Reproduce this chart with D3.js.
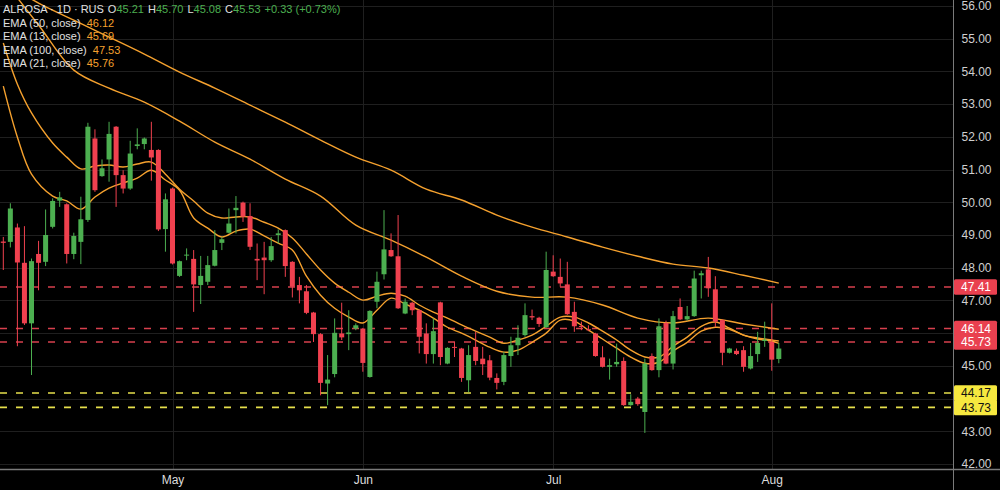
<html>
<head>
  <title>ALROSA 1D</title>
  <script src="https://d3js.org/d3.v7.min.js" charset="utf-8"></script>
  <style type="text/css">
    body { margin: 0; background: #000; }
    svg { display: block; }
    text { font-family: "Liberation Sans", Arial, sans-serif; }
  </style>
</head>
<body>
<div id="chart"></div>
<script>
  // candle data, one entry per trading day (index 0..110)
  var opens  = [48.80,48.79,49.23,48.15,46.30,48.42,48.18,49.25,50.05,49.94,48.42,48.79,49.46,51.95,50.80,51.31,52.31,50.83,50.42,51.72,
                51.78,51.60,51.60,49.18,50.42,47.75,48.37,48.27,47.47,47.57,48.06,48.76,49.07,49.76,49.99,49.58,48.27,48.31,48.23,49.00,
                49.15,48.18,47.47,47.28,46.63,45.97,44.46,44.75,45.99,45.97,46.14,46.14,44.66,46.96,47.80,48.54,48.35,46.60,46.93,46.70,
                45.99,45.36,46.94,45.07,45.58,45.53,44.56,45.58,45.22,45.17,44.63,44.51,45.30,45.63,45.94,46.52,46.47,46.18,47.88,47.72,
                47.49,46.65,46.22,46.12,45.99,45.26,44.97,45.05,45.15,43.80,44.00,43.59,45.30,44.87,46.31,45.07,46.80,46.42,46.52,47.77,
                47.95,47.34,46.40,45.40,45.46,45.48,44.92,45.36,45.76,45.73,45.21];
  var highs  = [48.94,49.97,49.35,49.27,48.28,48.82,49.78,50.12,50.32,49.97,49.07,50.17,52.43,52.23,51.31,52.46,52.33,50.98,51.88,52.26,
                51.98,52.46,51.62,50.27,50.45,48.22,48.59,48.54,48.36,48.36,49.15,48.94,49.81,50.19,50.02,49.97,48.74,48.79,48.94,49.17,
                49.17,48.20,47.72,47.47,46.65,46.00,45.33,46.45,46.93,46.70,46.30,46.16,46.70,47.88,49.76,49.05,49.61,47.06,46.96,46.72,
                46.30,46.45,46.96,45.57,45.73,45.55,45.63,46.04,45.58,45.33,44.77,45.43,45.89,46.24,46.91,46.72,46.50,48.49,48.38,48.28,
                48.18,46.96,46.35,46.24,46.01,45.60,45.22,45.68,45.26,44.13,44.05,45.22,45.38,46.45,46.38,46.68,47.06,46.83,47.91,47.91,
                48.33,47.74,46.42,45.55,45.53,45.60,45.70,46.04,46.35,46.91,45.70];
  var lows   = [47.93,48.62,45.60,46.25,44.72,47.31,48.05,49.20,49.86,48.13,48.26,48.11,49.40,50.32,50.78,50.63,49.86,50.27,50.38,51.62,
                51.62,50.66,49.12,48.49,48.10,47.72,48.23,46.65,46.89,47.47,48.04,48.54,49.05,49.05,49.40,48.54,47.62,47.19,48.18,48.74,
                47.72,47.09,46.91,46.58,45.73,44.10,43.80,44.65,45.79,45.48,46.09,44.82,44.64,46.76,47.64,48.33,46.74,46.58,46.55,45.38,
                45.07,45.07,45.02,45.05,45.27,44.51,44.20,45.02,44.72,44.56,44.28,44.41,44.97,45.33,45.89,46.40,46.19,46.16,47.72,47.42,
                46.56,46.04,46.09,46.06,45.28,44.95,44.58,44.97,43.78,43.78,43.78,42.95,44.85,44.65,45.05,44.89,46.40,46.38,46.50,47.06,
                47.11,46.19,45.02,45.38,45.33,44.82,44.89,45.12,45.58,44.85,45.08];
  var closes = [48.76,49.81,48.16,46.30,48.20,48.15,49.00,50.04,50.15,48.42,48.97,49.48,52.31,50.37,51.04,52.09,50.83,50.42,51.49,51.77,
                51.95,51.37,49.17,50.09,48.13,48.20,48.40,47.49,47.75,48.08,48.54,48.87,49.35,49.83,49.56,48.64,48.22,48.23,48.66,49.05,
                48.05,47.42,47.31,46.62,45.97,44.48,44.58,46.01,45.87,46.02,46.24,45.09,46.68,47.57,48.56,48.35,46.76,46.96,46.70,45.89,
                45.36,46.06,45.27,45.55,45.55,44.63,45.33,45.15,45.05,44.64,44.48,45.33,45.63,45.86,46.55,46.48,46.28,47.93,47.74,47.52,
                46.58,46.21,46.19,46.09,45.30,44.97,45.02,45.12,43.80,43.90,43.83,45.07,44.87,46.21,45.07,46.52,46.42,46.52,47.67,47.83,
                47.37,46.35,45.40,45.53,45.36,44.97,45.30,45.70,45.80,45.19,45.53];

  // slow moving averages every 5 bars
  var slowIdx = [0,5,10,15,20,25,30,35,40,45,50,55,60,65,70,75,80,85,90,95,100,105,110];
  var ema100 = [56.73,56.09,55.57,55.05,54.53,53.98,53.49,52.97,52.45,51.90,51.38,50.98,50.40,50.07,49.61,49.24,48.94,48.63,48.35,48.11,47.99,47.77,47.53];
  var ema50  = [56.80,55.42,54.04,53.49,53.06,52.48,51.84,51.32,50.71,50.19,49.30,48.84,48.32,47.74,47.28,47.10,47.10,46.86,46.46,46.31,46.46,46.28,46.12];

  // fast moving averages every 2 bars
  var fastIdx = [0,2,4,7,9,11,13,15,17,19,21,23,25,27,29,31,33,35,37,39,41,43,45,47,49,51,53,55,57,59,
                 61,63,65,67,69,71,73,75,77,79,81,83,85,87,89,91,93,95,97,99,101,103,105,107,109,110];
  var ema13  = [53.55,51.99,50.86,50.19,50.04,49.79,50.16,50.43,50.59,50.74,50.98,50.68,50.37,49.52,49.21,48.94,49.12,49.18,48.97,48.75,
                48.54,47.74,47.16,46.76,46.49,46.31,46.70,47.07,46.89,46.70,46.46,46.18,46.00,45.79,45.57,45.42,45.48,45.72,46.00,46.40,
                46.37,46.09,45.82,45.54,45.27,45.08,45.11,45.45,45.72,46.06,46.18,46.12,45.94,45.82,45.76,45.69];
  var ema21  = [54.87,53.61,52.73,51.81,51.38,51.02,51.11,51.14,51.08,51.17,51.23,50.86,50.40,50.04,49.67,49.52,49.55,49.55,49.39,49.21,
                48.91,48.42,47.93,47.53,47.25,47.01,47.13,47.22,47.13,46.86,46.64,46.46,46.25,46.06,45.88,45.69,45.79,45.94,46.21,46.49,
                46.49,46.31,46.06,45.79,45.48,45.27,45.27,45.60,45.88,46.21,46.34,46.15,45.94,45.85,45.79,45.76];

  var monthIdx = [24, 51, 78, 109];
  var monthLabels = ["May", "Jun", "Jul", "Aug"];
  var priceTicks = [42,43,44,45,46,47,48,49,50,51,52,53,54,55,56];
  var hiddenTicks = [44, 46];

  var levelValues = [47.41, 46.14, 45.73, 44.17, 43.73];
  var levelKinds  = ["res", "res", "res", "sup", "sup"];

  var W = 1000, H = 490;
  var plotRight = 953.5, plotBottom = 469.5;
  var green = "#4caf50", red = "#f0414f", orange = "#f5a12e";

  var x = d3.scaleLinear().domain([0, 110]).range([3.3, 778.8]);
  var y = d3.scaleLinear().domain([42, 56]).range([464, 6]);

  var svg = d3.select('#chart').append('svg')
    .attr('width', W)
    .attr('height', H)
    .style('background', '#000');

  svg.append('defs').append('clipPath').attr('id', 'plot')
    .append('rect').attr('x', 0).attr('y', 0).attr('width', plotRight).attr('height', plotBottom);

  // grid
  svg.append('g').selectAll('line')
    .data(priceTicks)
    .enter().append('line')
      .attr('x1', 0).attr('x2', plotRight)
      .attr('y1', function(d){ return Math.round(y(d)) + 0.5; })
      .attr('y2', function(d){ return Math.round(y(d)) + 0.5; })
      .style('stroke', '#1f1f1f');

  svg.append('g').selectAll('line')
    .data(monthIdx)
    .enter().append('line')
      .attr('x1', function(d){ return Math.round(x(d)) + 0.5; })
      .attr('x2', function(d){ return Math.round(x(d)) + 0.5; })
      .attr('y1', 0).attr('y2', plotBottom)
      .style('stroke', '#1f1f1f');

  // support / resistance levels
  svg.append('g').selectAll('line')
    .data(levelValues)
    .enter().append('line')
      .attr('x1', 0).attr('x2', plotRight)
      .attr('y1', function(d){ return y(d); })
      .attr('y2', function(d){ return y(d); })
      .style('stroke', function(d, i){ return levelKinds[i] == "res" ? "#d8404e" : "#e6df4c"; })
      .style('stroke-width', 1.6)
      .style('stroke-dasharray', '7,9');

  // EMA lines
  var plot = svg.append('g').attr('clip-path', 'url(#plot)');
  function emaPath(idx, vals){
    var line = d3.line()
      .x(function(d, i){ return x(idx[i]); })
      .y(function(d){ return y(d); })
      .curve(d3.curveCatmullRom);
    plot.append('path')
      .attr('d', line(vals))
      .style('fill', 'none')
      .style('stroke', orange)
      .style('stroke-width', 1.4);
  }
  emaPath(slowIdx, ema100);
  emaPath(slowIdx, ema50);
  emaPath(fastIdx, ema21);
  emaPath(fastIdx, ema13);

  // candles
  var candles = plot.selectAll('g.candle')
    .data(d3.range(opens.length))
    .enter().append('g');

  candles.append('line')
    .attr('x1', function(i){ return x(i); })
    .attr('x2', function(i){ return x(i); })
    .attr('y1', function(i){ return y(highs[i]); })
    .attr('y2', function(i){ return y(lows[i]); })
    .style('stroke', function(i){ return closes[i] >= opens[i] ? green : red; })
    .style('stroke-width', 1);

  candles.append('rect')
    .attr('x', function(i){ return x(i) - 2.5; })
    .attr('width', 5)
    .attr('y', function(i){ return y(Math.max(opens[i], closes[i])); })
    .attr('height', function(i){ return Math.max(1, Math.abs(y(opens[i]) - y(closes[i]))); })
    .style('fill', function(i){ return closes[i] >= opens[i] ? green : red; });

  // right price axis
  var yAxis = d3.axisRight(y)
    .tickValues(priceTicks.filter(function(d){ return hiddenTicks.indexOf(d) < 0; }))
    .tickFormat(d3.format('.2f'))
    .tickSize(0)
    .tickPadding(8);

  var yGuide = svg.append('g').attr('transform', 'translate(' + plotRight + ',0)');
  yAxis(yGuide);
  yGuide.select('.domain').remove();
  yGuide.selectAll('text')
    .style('fill', '#d0d0d0')
    .style('font-size', '12px');

  // level tags
  var tags = svg.append('g').selectAll('g')
    .data(levelValues)
    .enter().append('g')
      .attr('transform', function(d){ return 'translate(' + plotRight + ',' + y(d) + ')'; });
  tags.append('rect')
    .attr('x', 0.5).attr('y', -7.8).attr('width', 43).attr('height', 15.6).attr('rx', 1.5)
    .style('fill', function(d, i){ return levelKinds[i] == "res" ? "#e9404f" : "#f6e83f"; });
  tags.append('text')
    .attr('x', 7.5).attr('dy', '0.36em')
    .style('font-size', '12px')
    .style('fill', function(d, i){ return levelKinds[i] == "res" ? "#fff" : "#111"; })
    .text(function(d){ return d3.format('.2f')(d); });

  // bottom time axis
  var xAxis = d3.axisBottom(x)
    .tickValues(monthIdx)
    .tickFormat(function(d, i){ return monthLabels[i]; })
    .tickSize(0)
    .tickPadding(6);
  var xGuide = svg.append('g').attr('transform', 'translate(0,' + plotBottom + ')');
  xAxis(xGuide);
  xGuide.select('.domain').remove();
  xGuide.selectAll('text')
    .style('fill', '#dcdcdc')
    .style('font-size', '12px');

  // frame lines
  svg.append('line')
    .attr('x1', 0).attr('x2', W).attr('y1', plotBottom).attr('y2', plotBottom)
    .style('stroke', '#7a7a7a').style('stroke-width', 1.5);
  svg.append('line')
    .attr('x1', plotRight).attr('x2', plotRight).attr('y1', 0).attr('y2', H)
    .style('stroke', '#7a7a7a').style('stroke-width', 1);

  // legend
  var legend = svg.append('g').style('font-size', '11px');
  var head = legend.append('text').attr('x', 3).attr('y', 13).style('fill', '#e0e0e0');
  head.append('tspan').text('ALROSA · 1D · RUS');
  head.append('tspan').attr('dx', 4).text('O');
  head.append('tspan').style('fill', green).text('45.21');
  head.append('tspan').attr('dx', 4).text('H');
  head.append('tspan').style('fill', green).text('45.70');
  head.append('tspan').attr('dx', 4).text('L');
  head.append('tspan').style('fill', green).text('45.08');
  head.append('tspan').attr('dx', 4).text('C');
  head.append('tspan').style('fill', green).text('45.53');
  head.append('tspan').attr('dx', 4).style('fill', green).text('+0.33 (+0.73%)');

  var emaNames = ["EMA (50, close)", "EMA (13, close)", "EMA (100, close)", "EMA (21, close)"];
  var emaLast = [ema50, ema13, ema100, ema21];
  emaNames.forEach(function(n, i){
    var t = legend.append('text').attr('x', 3).attr('y', 27 + i * 13.4).style('fill', '#e0e0e0');
    t.append('tspan').text(n);
    t.append('tspan').attr('dx', 6).style('fill', orange).text(d3.format('.2f')(emaLast[i][emaLast[i].length - 1]));
  });
</script>
</body>
</html>
